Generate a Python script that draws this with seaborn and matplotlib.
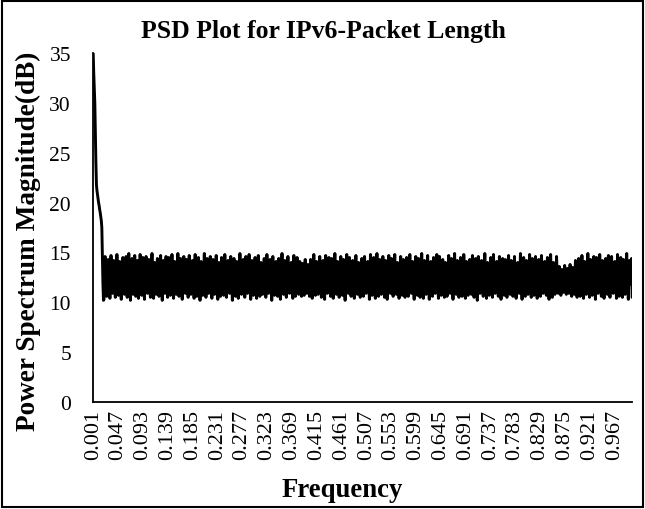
import numpy as np
import matplotlib
matplotlib.use("Agg")
import matplotlib.pyplot as plt
import seaborn as sns
from matplotlib.patches import Rectangle

# ---- data ----
title = "PSD Plot for IPv6-Packet Length"
x_label = "Frequency"
y_label = "Power Spectrum Magnitude(dB)"

tick_labels = ["0.001", "0.047", "0.093", "0.139", "0.185", "0.231", "0.277", "0.323",
               "0.369", "0.415", "0.461", "0.507", "0.553", "0.599", "0.645", "0.691",
               "0.737", "0.783", "0.829", "0.875", "0.921", "0.967"]
y_ticks = [0, 5, 10, 15, 20, 25, 30, 35]

psd_head = [35.0, 33.0, 31.5, 30.0, 27.0, 24.0, 21.8, 21.2, 20.8, 20.4,
            20.0, 19.7, 19.3, 19.0, 18.6, 18.2, 17.5, 14.5, 12.0, 10.2]

psd_part1 = [
    10.3,12.4,14.6,12.9,11.8,10.6,12.7,13.1,14.3,12.2,11.5,10.4,12.8,14.7,13.0,12.1,10.9,12.5,14.2,12.6,
    11.9,10.5,13.2,12.4,14.8,12.0,11.6,10.7,12.9,14.1,13.3,11.8,10.3,12.6,13.0,14.5,12.3,11.7,10.8,13.4,
    12.7,14.6,12.1,10.5,11.9,13.2,14.9,12.5,11.4,10.2,12.8,13.5,14.4,12.0,10.8,12.3,13.1,14.7,11.8,10.6,
    12.5,13.4,14.2,11.9,10.4,12.6,12.9,14.8,13.0,11.5,10.7,12.2,14.5,12.8,11.7,10.3,12.4,13.3,14.6,12.1,
    11.6,10.9,12.7,14.3,13.1,12.0,10.5,11.8,13.4,14.9,12.6,11.3,10.4,12.9,14.0,12.2,11.7,10.8,13.0,14.4,
    12.8,11.5,10.6,12.3,13.6,14.7,12.4,11.9,10.2,12.5,14.2,13.2,11.6,10.9,12.8,14.6,12.0,11.4,10.5,13.1,
    14.5,12.7,11.8,10.7,12.2,13.4,14.8,12.9,11.3,10.4,12.6,14.1,13.0,11.7,10.8,12.4,13.3,14.9,12.1,10.6,
    11.9,12.8,14.4,13.1,11.6,10.3,12.5,13.0,14.6,12.3,11.4,10.9,12.7,14.3,12.9,11.8,10.5,12.1,14.7,13.2,
    11.5,10.8,12.6,13.5,14.2,12.4,11.7,10.4,12.9,14.8,12.0,11.3,10.6,12.7,13.4,14.5,12.2,11.9,10.2,12.8,
    14.1,13.0,11.6,10.7,12.3,13.2,14.9,12.6,11.8,10.5,12.4,14.4,12.9,11.4,10.9,12.5,13.6,14.6,12.1,11.7,
]
psd_part2 = [
    10.4,12.8,14.3,13.1,11.5,10.8,12.6,13.3,14.7,12.2,11.9,10.3,12.5,14.0,12.7,11.6,10.6,12.9,14.5,13.4,
    12.0,11.3,10.7,12.4,14.8,12.8,11.8,10.5,12.3,13.5,14.2,12.6,11.4,10.9,12.1,14.6,13.0,11.7,10.2,12.7,
    13.2,14.4,12.5,11.6,10.6,12.9,14.1,13.3,11.9,10.4,12.2,12.8,14.9,12.4,11.5,10.8,12.6,13.1,14.3,12.0,
    11.7,10.5,12.7,14.6,13.0,11.4,10.9,12.3,13.4,14.8,12.5,11.8,10.3,12.9,14.2,12.6,11.6,10.7,12.1,13.6,
    14.5,12.8,11.5,10.4,12.4,13.2,14.7,12.2,11.9,10.6,12.7,14.0,13.1,11.3,10.8,12.5,13.5,14.4,12.9,11.7,
    10.5,12.3,14.8,13.0,11.6,10.9,12.6,12.9,14.3,12.1,11.4,10.2,12.8,14.6,13.3,11.8,10.7,12.4,13.7,14.1,
    12.5,11.5,10.6,12.7,14.4,12.9,11.7,10.3,12.2,13.4,14.9,12.6,11.9,10.8,12.4,14.2,13.0,11.4,10.5,12.8,
    13.2,14.6,12.3,11.6,10.9,12.5,13.6,14.0,12.8,11.3,10.4,12.1,14.7,12.9,11.8,10.6,12.6,13.1,14.5,12.2,
    11.7,10.8,12.4,14.1,12.6,11.9,10.6,12.2,13.9,12.8,11.4,10.7,12.5,14.3,12.3,11.6,10.9,12.7,13.8,12.1,
    11.5,10.6,12.8,14.3,13.0,11.8,10.4,12.6,13.2,14.8,12.4,11.6,10.7,12.9,14.1,12.5,11.3,10.8,12.2,13.6,
]
psd_part3 = [
    14.6,12.7,11.9,10.5,12.3,13.4,14.2,12.8,11.5,10.3,12.6,14.7,13.1,11.7,10.9,12.4,13.3,14.5,12.0,11.4,
    10.6,12.9,14.4,13.2,11.8,10.4,12.5,13.0,14.9,12.3,11.6,10.8,12.7,14.1,12.6,11.9,10.5,12.2,13.5,14.6,
    12.4,11.3,10.7,12.8,14.3,13.0,11.7,10.2,12.6,13.3,14.8,12.5,11.8,10.9,12.3,14.5,12.9,11.5,10.6,12.7,
    13.4,14.2,12.1,11.6,10.4,12.9,13.6,14.7,12.6,11.4,10.8,12.3,14.0,13.1,11.9,10.5,12.8,13.2,14.4,12.2,
    11.7,10.6,12.5,14.6,12.9,11.3,10.9,12.7,13.5,14.1,12.4,11.8,10.3,12.6,14.8,13.0,11.6,10.7,12.2,13.4,
    14.5,12.8,11.5,10.4,12.1,13.3,14.9,12.6,11.9,10.6,12.9,14.3,12.4,11.7,10.8,12.5,13.0,14.6,12.3,11.4,
    10.5,12.7,14.2,13.1,11.8,10.3,12.4,13.6,14.7,12.9,11.6,10.9,12.2,14.4,12.8,11.5,10.6,12.6,13.2,14.8,
    12.5,11.7,10.8,12.3,14.0,12.9,11.4,10.4,12.7,13.4,14.6,12.1,11.9,10.7,12.6,14.3,13.0,11.6,10.5,12.8,
    13.3,14.5,12.4,11.8,10.6,12.2,13.5,14.8,12.7,11.3,10.9,12.5,14.1,12.9,11.7,10.3,12.4,13.1,14.6,12.0,
    11.6,10.7,12.8,14.4,13.2,11.5,10.5,12.6,13.0,14.9,12.3,11.8,10.4,12.7,14.2,12.5,11.4,10.8,12.9,13.6,
]
psd_part4 = [
    14.7,12.6,11.9,10.3,12.4,13.3,14.1,12.8,11.6,10.6,12.2,14.5,13.0,11.7,10.9,12.7,13.4,14.8,12.1,11.5,
    10.4,12.5,14.6,12.9,11.8,10.7,12.3,13.5,14.3,12.6,11.4,10.5,12.8,14.0,13.1,11.9,10.6,12.4,13.2,14.7,
    12.2,11.6,10.9,12.7,14.4,12.8,11.5,10.3,12.5,13.6,14.9,12.3,11.7,10.8,12.9,14.2,12.6,11.4,10.5,12.1,
    13.4,14.5,12.7,11.8,10.6,12.4,13.0,14.8,12.9,11.3,10.4,12.6,14.1,13.2,11.9,10.7,12.5,13.5,14.3,12.2,
    11.5,10.8,12.6,14.7,13.1,11.6,10.5,12.8,13.3,14.4,12.3,11.9,10.2,12.7,14.6,12.4,11.7,10.9,12.0,13.6,
    14.2,12.9,11.4,10.6,12.5,13.4,14.9,12.2,11.8,10.4,12.6,14.0,13.0,11.5,10.7,12.8,13.1,14.5,12.4,11.6,
    10.5,12.3,14.8,13.2,11.7,10.9,12.6,13.5,14.1,12.7,11.3,10.6,12.4,14.6,12.9,11.8,10.3,12.5,13.3,14.4,
    12.1,11.5,10.7,12.8,14.3,13.0,11.6,10.5,12.2,13.6,14.7,12.5,11.9,10.8,12.7,14.2,12.4,11.4,10.6,12.9,
    13.1,14.6,12.3,11.7,10.4,12.6,13.4,14.0,12.8,11.5,10.9,12.1,14.9,13.2,11.8,10.3,12.5,12.9,14.5,12.4,
    11.6,10.6,12.7,14.2,13.0,11.4,10.8,12.3,13.5,14.8,12.6,11.9,10.5,12.8,14.4,12.2,11.7,10.7,12.5,13.3,
]
psd_part5 = [
    14.6,12.4,11.8,10.4,12.9,13.1,14.3,12.7,11.5,10.6,12.2,14.7,13.2,11.6,10.9,12.6,13.4,14.1,12.0,11.3,
    10.7,12.8,14.5,12.9,11.7,10.3,12.4,13.6,14.8,12.5,11.9,10.5,12.7,14.0,13.0,11.4,10.8,12.3,13.2,14.6,
    12.6,11.5,10.9,12.4,13.6,12.9,11.8,10.7,12.5,13.3,12.2,11.6,11.0,12.8,13.7,12.4,11.9,10.8,12.3,13.4,
    12.7,11.7,10.9,12.5,13.8,12.6,11.4,10.6,12.2,13.5,12.9,11.8,10.8,12.4,14.2,12.7,11.6,10.5,12.8,13.6,
    14.4,12.9,11.5,10.6,12.3,13.2,14.7,12.6,11.8,10.4,12.5,14.1,13.0,11.7,10.8,12.4,13.4,14.9,12.2,11.6,
    10.5,12.6,14.3,13.1,11.9,10.7,12.8,13.3,14.6,12.4,11.5,10.3,12.7,14.5,12.9,11.6,10.9,12.2,13.5,14.8,
    12.3,11.8,10.6,12.5,14.2,12.8,11.4,10.4,12.6,13.6,14.4,12.1,11.7,10.8,12.9,14.7,13.0,11.5,10.5,12.4,
    13.2,14.6,12.7,11.6,10.9,12.3,13.4,14.1,12.6,11.8,10.4,12.5,14.8,13.1,11.5,10.6,12.8,13.0,14.5,12.2,
    11.7,10.5,12.6,14.3,12.9,11.4,10.8,12.4,13.5,14.9,12.7,11.6,10.3,12.5,14.2,13.1,11.8,12.6,14.4,10.5,
]

psd_db = psd_head + psd_part1 + psd_part2 + psd_part3 + psd_part4 + psd_part5
n_points = len(psd_db)
frequency = np.round(np.arange(1, n_points + 1) * 0.001, 3)

# ---- plot ----
sns.set_theme(style="white")
plt.rcParams["font.family"] = ["Liberation Serif", "DejaVu Serif"]
plt.rcParams["text.color"] = "black"
plt.rcParams["axes.labelcolor"] = "black"
plt.rcParams["xtick.color"] = "black"
plt.rcParams["ytick.color"] = "black"

fig = plt.figure(figsize=(6.45, 5.10), dpi=100)
ax = fig.add_axes([0.1445, 0.2098, 0.8355, 0.684])

sns.lineplot(x=frequency, y=psd_db, color="black", linewidth=2.1, ax=ax,
             estimator=None, sort=False)

ax.set_xlim(frequency[0], frequency[-1])
ax.set_ylim(0, 35)
ax.set_yticks(y_ticks)
ax.set_yticklabels([str(v) for v in y_ticks], fontsize=15.5, color="black")
ax.set_xticks([float(t) for t in tick_labels])
ax.set_xticklabels(tick_labels, rotation=90, fontsize=16, color="black")
ax.tick_params(axis="y", length=0, pad=16)
ax.tick_params(axis="x", length=0, pad=5)

for side in ["top", "right"]:
    ax.spines[side].set_visible(False)
for side in ["left", "bottom"]:
    ax.spines[side].set_visible(True)
    ax.spines[side].set_color("black")
    ax.spines[side].set_linewidth(1.3)
ax.grid(False)

ax.set_xlabel("")
ax.set_ylabel("")
fig.text(0.502, 0.939, title, ha="center", va="center", fontsize=18.5,
         fontweight="bold", color="black")
fig.text(0.530, 0.039, x_label, ha="center", va="center", fontsize=19.3,
         fontweight="bold", color="black")
fig.text(0.044, 0.527, y_label, ha="center", va="center", rotation=90,
         fontsize=19.6, fontweight="bold", color="black")

fig.add_artist(Rectangle((0.003, 0.003), 0.994, 0.994, transform=fig.transFigure,
                         fill=False, edgecolor="black", linewidth=1.5))

fig.savefig("out.png", dpi=100)
